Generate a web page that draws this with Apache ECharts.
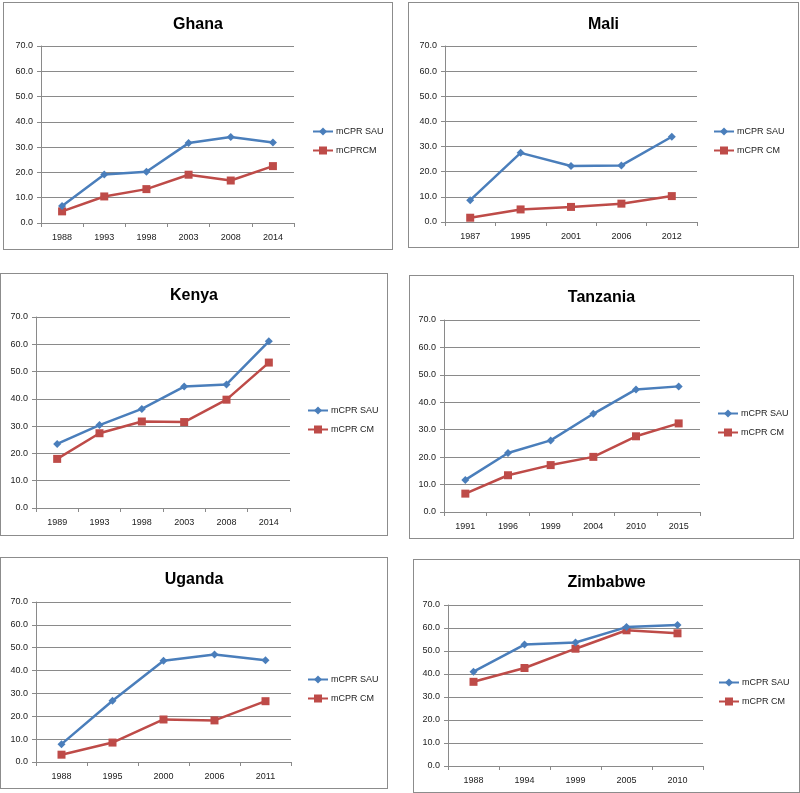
<!DOCTYPE html>
<html>
<head>
<meta charset="utf-8">
<script src="https://cdn.jsdelivr.net/npm/echarts@6/dist/echarts.min.js"></script>
<style>
  html, body { margin: 0; padding: 0; background: #fff; }
  body { width: 800px; height: 793px; position: relative; overflow: hidden; }
  .panel { position: absolute; box-sizing: border-box; border: 1px solid #8c8c8c; background: #fff; }
</style>
</head>
<body>
<script>
// ---- Data ----
const countries = ["Ghana", "Mali", "Kenya", "Tanzania", "Uganda", "Zimbabwe"];

const ghanaYears = ["1988", "1993", "1998", "2003", "2008", "2014"];
const ghanaSAU = [6.7, 19.2, 20.3, 31.6, 34.0, 31.8];
const ghanaCM = [4.6, 10.5, 13.4, 19.1, 16.8, 22.5];

const maliYears = ["1987", "1995", "2001", "2006", "2012"];
const maliSAU = [8.7, 27.5, 22.3, 22.5, 33.9];
const maliCM = [1.7, 5.0, 6.0, 7.3, 10.3];

const kenyaYears = ["1989", "1993", "1998", "2003", "2008", "2014"];
const kenyaSAU = [23.5, 30.4, 36.3, 44.5, 45.3, 61.1];
const kenyaCM = [18.0, 27.4, 31.7, 31.5, 39.7, 53.3];

const tanzaniaYears = ["1991", "1996", "1999", "2004", "2010", "2015"];
const tanzaniaSAU = [11.7, 21.5, 26.1, 35.8, 44.7, 45.8];
const tanzaniaCM = [6.7, 13.4, 17.1, 20.1, 27.6, 32.3];

const ugandaYears = ["1988", "1995", "2000", "2006", "2011"];
const ugandaSAU = [7.8, 26.8, 44.3, 47.0, 44.5];
const ugandaCM = [3.2, 8.5, 18.6, 18.2, 26.6];

const zimbabweYears = ["1988", "1994", "1999", "2005", "2010"];
const zimbabweSAU = [41.0, 52.8, 53.7, 60.4, 61.3];
const zimbabweCM = [36.6, 42.6, 51.0, 59.0, 57.7];

const seriesNamesSAU = ["mCPR SAU", "mCPR SAU", "mCPR SAU", "mCPR SAU", "mCPR SAU", "mCPR SAU"];
const seriesNamesCM = ["mCPRCM", "mCPR CM", "mCPR CM", "mCPR CM", "mCPR CM", "mCPR CM"];

const yTicks = { min: 0, max: 70, interval: 10 };

const allYears = [ghanaYears, maliYears, kenyaYears, tanzaniaYears, ugandaYears, zimbabweYears];
const allSAU = [ghanaSAU, maliSAU, kenyaSAU, tanzaniaSAU, ugandaSAU, zimbabweSAU];
const allCM = [ghanaCM, maliCM, kenyaCM, tanzaniaCM, ugandaCM, zimbabweCM];

// ---- Layout (page coords) ----
// [divL, divT, divW, divH, gridL, gridT, gridR, gridB, legendX, legendY(first item center), titleCenterY]
const layout = [
  [3, 2, 390, 248, 41, 46, 294, 223, 312, 132, 22],
  [408, 2, 391, 246, 445, 46, 697, 222, 713, 132, 22],
  [0, 273, 388, 263, 36, 317, 290, 508, 307, 411, 293],
  [409, 275, 385, 264, 444, 320, 700, 512, 717, 414, 295],
  [0, 557, 388, 232, 36, 602, 291, 762, 307, 680, 577],
  [413, 559, 387, 234, 448, 605, 703, 766, 718, 683, 580]
];

const BLUE = "#4a7ebb";
const RED = "#be4b48";
const GRID = "#8a8a8a";
const FONT = "Liberation Sans, Arial, sans-serif";

countries.forEach((name, i) => {
  const L = layout[i];
  const div = document.createElement("div");
  div.className = "panel";
  div.style.left = L[0] + "px";
  div.style.top = L[1] + "px";
  div.style.width = L[2] + "px";
  div.style.height = L[3] + "px";
  document.body.appendChild(div);
  const chart = echarts.init(div, null, { renderer: "canvas", width: L[2] - 2, height: L[3] - 2 });
  const ox = L[0] + 1, oy = L[1] + 1;
  chart.setOption({
    animation: false,
    title: {
      text: name,
      left: "center",
      top: L[10] - oy - 10,
      textStyle: { fontFamily: FONT, fontSize: 16, fontWeight: "bold", color: "#000" }
    },
    legend: {
      orient: "vertical",
      left: L[8] - ox,
      top: L[9] - oy - 5,
      itemWidth: 20,
      itemHeight: 10,
      itemGap: 10,
      padding: 0,
      textStyle: { fontFamily: FONT, fontSize: 9, color: "#222", padding: [0, 0, 0, -2] },
      data: [seriesNamesSAU[i], seriesNamesCM[i]]
    },
    grid: {
      left: L[4] - ox,
      top: L[5] - oy,
      width: L[6] - L[4],
      height: L[7] - L[5],
      containLabel: false
    },
    xAxis: {
      type: "category",
      data: allYears[i],
      boundaryGap: true,
      axisLine: { lineStyle: { color: GRID, width: 1 } },
      axisTick: { show: true, length: 4, lineStyle: { color: GRID } },
      axisLabel: { fontFamily: FONT, fontSize: 9, color: "#222", margin: 10 },
      splitLine: { show: false }
    },
    yAxis: {
      type: "value",
      min: yTicks.min,
      max: yTicks.max,
      interval: yTicks.interval,
      axisLine: { show: true, lineStyle: { color: GRID, width: 1 } },
      axisTick: { show: true, length: 4, lineStyle: { color: GRID } },
      axisLabel: { fontFamily: FONT, fontSize: 9, color: "#222", margin: 8, formatter: v => v.toFixed(1) },
      splitLine: { show: true, lineStyle: { color: GRID, width: 1 } }
    },
    series: [
      {
        name: seriesNamesSAU[i],
        type: "line",
        data: allSAU[i],
        symbol: "diamond",
        symbolSize: 8,
        lineStyle: { color: BLUE, width: 2.5 },
        itemStyle: { color: BLUE },
        z: 3
      },
      {
        name: seriesNamesCM[i],
        type: "line",
        data: allCM[i],
        symbol: "rect",
        symbolSize: 8,
        lineStyle: { color: RED, width: 2.5 },
        itemStyle: { color: RED },
        z: 2
      }
    ]
  });
});
</script>
</body>
</html>
